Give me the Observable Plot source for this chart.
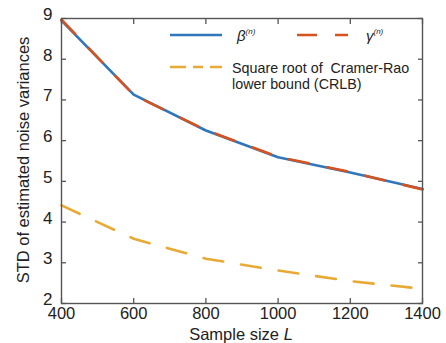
<!DOCTYPE html>
<html><head><meta charset="utf-8">
<script src="https://cdn.jsdelivr.net/npm/d3@7"></script>
<script src="https://cdn.jsdelivr.net/npm/@observablehq/plot@0.6"></script>
<style>
body{margin:0;background:#fff;}
#chart{width:446px;height:343px;}
</style>
</head><body><div id="chart"></div>
<script>
const sampleSizes = [400, 600, 800, 1000, 1200, 1400];
const betaStd  = [8.95, 7.13, 6.25, 5.59, 5.22, 4.81];
const gammaStd = [8.97, 7.12, 6.26, 5.60, 5.23, 4.80];
const crlbStd  = [4.41, 3.59, 3.10, 2.81, 2.55, 2.36];
const xTicks = [400, 600, 800, 1000, 1200, 1400];
const yTicks = [2, 3, 4, 5, 6, 7, 8, 9];
const colors = {beta: "#2f76ba", gamma: "#d6531f", crlb: "#e8aa34"};

const rows = (vals) => sampleSizes.map((L, i) => ({L, v: vals[i]}));
const axisColor = "#555";
const font = "'Liberation Sans', Arial, Helvetica, sans-serif";

const plot = Plot.plot({
  width: 446, height: 343,
  marginLeft: 61, marginRight: 24, marginTop: 18, marginBottom: 40,
  style: {fontFamily: font, fontSize: "16px", color: "#222", background: "#fff"},
  x: {domain: [400, 1400]},
  y: {domain: [2, 9]},
  marks: [
    Plot.line(rows(betaStd), {x: "L", y: "v", stroke: colors.beta, strokeWidth: 2.6}),
    Plot.line(rows(gammaStd), {x: "L", y: "v", stroke: colors.gamma, strokeWidth: 2.6, strokeDasharray: "20,19"}),
    Plot.line(rows(crlbStd), {x: "L", y: "v", stroke: colors.crlb, strokeWidth: 2.6, strokeDasharray: "20,18"}),
    Plot.frame({stroke: axisColor, strokeWidth: 1.4}),
    Plot.axisX(xTicks, {anchor: "bottom", tickSize: 0, tickPadding: 4, label: null, fill: "#222", fontSize: 16.5, tickFormat: d3.format("d")}),
    Plot.axisX(xTicks, {anchor: "bottom", tickSize: -5, tickFormat: () => "", label: null, stroke: axisColor, strokeWidth: 1.3}),
    Plot.axisX(xTicks, {anchor: "top", tickSize: -5, tickFormat: () => "", label: null, stroke: axisColor, strokeWidth: 1.3}),
    Plot.axisY(yTicks, {anchor: "left", tickSize: 0, tickPadding: 9, label: null, fill: "#222", fontSize: 17, dy: -4}),
    Plot.axisY(yTicks, {anchor: "left", tickSize: -5, tickFormat: () => "", label: null, stroke: axisColor, strokeWidth: 1.3}),
    Plot.axisY(yTicks, {anchor: "right", tickSize: -5, tickFormat: () => "", label: null, stroke: axisColor, strokeWidth: 1.3})
  ]
});
document.getElementById("chart").appendChild(plot);

const svg = d3.select(plot);
// Axis titles
const xt = svg.append("text").attr("x", 241).attr("y", 339.5).attr("text-anchor", "middle")
  .attr("font-family", font).attr("font-size", 16.5).attr("fill", "#222");
xt.append("tspan").text("Sample size ");
xt.append("tspan").attr("font-style", "italic").text("L");
svg.append("text").attr("transform", "translate(29,160) rotate(-90)").attr("text-anchor", "middle")
  .attr("font-family", font).attr("font-size", 16.5).attr("fill", "#222")
  .text("STD of estimated noise variances");

// Legend
const lg = svg.append("g").attr("font-family", font).attr("fill", "#222").attr("text-anchor", "start");
lg.append("line").attr("x1", 170).attr("x2", 222).attr("y1", 35).attr("y2", 35)
  .attr("stroke", colors.beta).attr("stroke-width", 2.6);
const tb = lg.append("text").attr("x", 237).attr("y", 41).attr("font-size", 15);
tb.append("tspan").attr("font-style", "italic").text("β");
tb.append("tspan").attr("font-style", "italic").attr("font-size", 8).attr("dy", -7).text("(n)");
lg.append("line").attr("x1", 297).attr("x2", 348).attr("y1", 35).attr("y2", 35)
  .attr("stroke", colors.gamma).attr("stroke-width", 2.6).attr("stroke-dasharray", "20,18");
const tg = lg.append("text").attr("x", 366).attr("y", 41).attr("font-size", 15);
tg.append("tspan").attr("font-style", "italic").text("γ");
tg.append("tspan").attr("font-style", "italic").attr("font-size", 8).attr("dy", -7).text("(n)");
lg.append("line").attr("x1", 170).attr("x2", 222).attr("y1", 67).attr("y2", 67)
  .attr("stroke", colors.crlb).attr("stroke-width", 2.6).attr("stroke-dasharray", "16,7,10,7");
lg.append("text").attr("x", 232).attr("y", 72.5).attr("font-size", 14.3).style("white-space", "pre").text("Square root of  Cramer-Rao");
lg.append("text").attr("x", 232).attr("y", 89).attr("font-size", 14.3).text("lower bound (CRLB)");
</script>
</body></html>
